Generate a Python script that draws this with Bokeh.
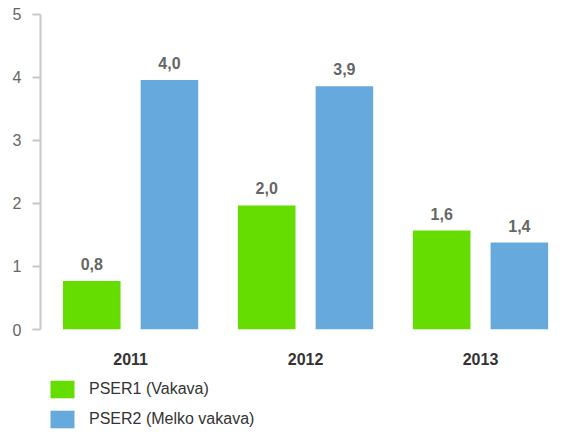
from bokeh.plotting import figure
from bokeh.layouts import column
from bokeh.models import Range1d, FixedTicker, Legend, LegendItem, ColumnDataSource
from bokeh.core.properties import value
from bokeh.embed import file_html
from bokeh.resources import INLINE

categories = ["2011", "2012", "2013"]
pser1 = [0.77, 1.97, 1.57]
pser2 = [3.96, 3.86, 1.38]
series_names = ["PSER1 (Vakava)", "PSER2 (Melko vakava)"]
y_ticks = [0, 1, 2, 3, 4, 5]

GREEN = "#66dd00"
BLUE = "#66aadd"
FONT = "Liberation Sans"

def fmt(v):
    return f"{v:.1f}".replace(".", ",")

idx = list(range(len(categories)))
off = 0.222
bw = 0.329

src1 = ColumnDataSource(dict(x=[i - off for i in idx], top=pser1, lab=[fmt(v) for v in pser1]))
src2 = ColumnDataSource(dict(x=[i + off for i in idx], top=pser2, lab=[fmt(v) for v in pser2]))

W = 557
p = figure(width=W, height=372, output_backend="svg", toolbar_location=None,
           x_range=Range1d(-0.515, 2.44), y_range=Range1d(0, 5.222),
           min_border_left=40, min_border_right=0, min_border_top=0, min_border_bottom=43)
p.outline_line_color = None
p.xgrid.visible = False
p.ygrid.visible = False

r1 = p.vbar(x="x", top="top", width=bw, source=src1, color=GREEN, line_color=None)
r2 = p.vbar(x="x", top="top", width=bw, source=src2, color=BLUE, line_color=None)

for s in (src1, src2):
    p.text(x="x", y="top", text="lab", source=s, text_align="center", text_baseline="bottom",
           y_offset=-11, text_font=value(FONT), text_font_size="16px", text_font_style="bold",
           text_color="#666666")

ya = p.yaxis[0]
ya.ticker = FixedTicker(ticks=y_ticks)
ya.bounds = (0, 5)
ya.axis_line_color = "#c8c8c8"
ya.axis_line_width = 2
ya.major_tick_line_color = "#c8c8c8"
ya.major_tick_line_width = 2
ya.major_tick_out = 8
ya.major_tick_in = 0
ya.minor_tick_line_color = None
ya.major_label_standoff = 11
ya.major_label_text_font = FONT
ya.major_label_text_font_size = "16px"
ya.major_label_text_color = "#666666"

xa = p.xaxis[0]
xa.ticker = FixedTicker(ticks=idx)
xa.major_label_overrides = {i: c for i, c in zip(idx, categories)}
xa.axis_line_color = None
xa.major_tick_line_color = None
xa.minor_tick_line_color = None
xa.major_tick_out = 0
xa.major_tick_in = 0
xa.major_label_standoff = 23
xa.major_label_text_font = FONT
xa.major_label_text_font_size = "16px"
xa.major_label_text_font_style = "bold"
xa.major_label_text_color = "#333333"

# legend panel
pl = figure(width=W, height=59, output_backend="svg", toolbar_location=None,
            x_range=Range1d(0, 1), y_range=Range1d(0, 1),
            x_axis_location=None, y_axis_location=None,
            min_border_left=0, min_border_right=0, min_border_top=0, min_border_bottom=0)
pl.outline_line_color = None
pl.grid.visible = False
l1 = pl.vbar(x=[0.5], bottom=[-30], top=[-20], width=0.1, color=GREEN, line_color=None)
l2 = pl.vbar(x=[0.5], bottom=[-30], top=[-20], width=0.1, color=BLUE, line_color=None)
legend = Legend(items=[LegendItem(label=series_names[0], renderers=[l1]),
                       LegendItem(label=series_names[1], renderers=[l2])],
                location=(7, 1), orientation="vertical",
                glyph_width=30, glyph_height=22, label_standoff=12, spacing=8,
                padding=0, margin=0, border_line_color=None, background_fill_alpha=0,
                label_text_font=FONT, label_text_font_size="16px", label_text_color="#333333",
                label_height=22)
pl.add_layout(legend, "center")

layout = column(p, pl, spacing=0)
open("out.html", "w").write(file_html(layout, INLINE))
